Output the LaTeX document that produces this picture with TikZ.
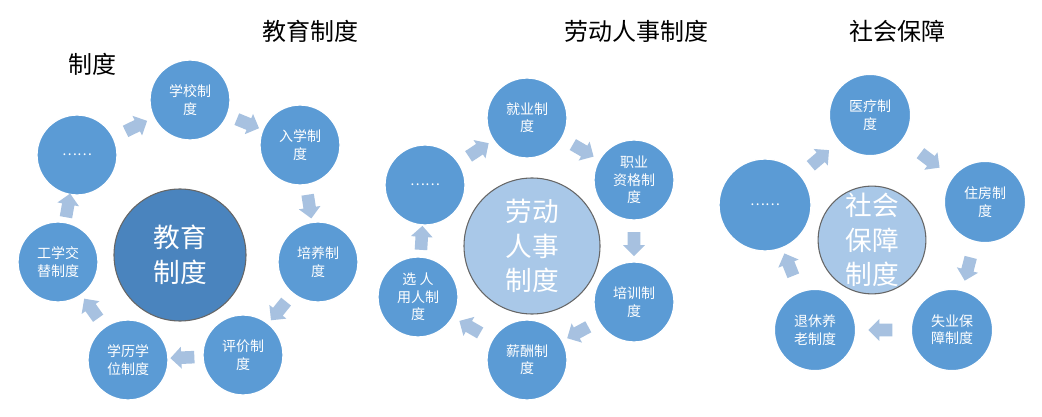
\documentclass[tikz,border=0pt]{standalone}
\usepackage{fontspec}
\newfontfamily\cjk{Noto Sans CJK SC}
\usetikzlibrary{shapes.arrows,calc}
\definecolor{cblue}{HTML}{5B9BD5}
\definecolor{cdark}{HTML}{4A84BE}
\definecolor{clight}{HTML}{A9C8E8}
\definecolor{carrow}{HTML}{A7C1E0}
\begin{document}
\begin{tikzpicture}[x=0.75pt,y=-0.75pt,font=\cjk,
  sm/.style={circle,fill=cblue,draw=white,line width=1pt,text=white,align=center,font=\cjk\fontsize{10.5}{13}\selectfont,inner sep=0pt},
  bigdark/.style={circle,fill=cdark,draw=black!60,line width=0.8pt,text=white,align=center,font=\cjk\fontsize{20}{26}\selectfont,inner sep=0pt},
  biglight/.style={circle,fill=clight,draw=black!60,line width=0.8pt,text=white,align=center,font=\cjk\fontsize{20}{26}\selectfont,inner sep=0pt},
  arr/.style={single arrow,fill=carrow,draw=none,minimum height=18pt,single arrow head extend=3.5pt,single arrow head indent=0pt,inner xsep=2pt,inner ysep=4.5pt},
  ttl/.style={font=\cjk\fontsize{18}{22}\selectfont}]
\newcommand\conn[2]{\path let \p1=($(#2)-(#1)$), \n1={atan2(\y1,\x1)} in node[arr,rotate=\n1] at ($(#1)!0.5!(#2)$) {};}
\useasboundingbox (0,0) rectangle (1042,417);
\fill[white] (0,0) rectangle (1042,417);
% titles
\node[ttl] (t1) at (310,31) {教育制度};
\node[ttl] (t0) at (92,64) {制度};
\node[ttl] (t2) at (636,31) {劳动人事制度};
\node[ttl] (t3) at (897,31) {社会保障};
% group 1
\node[bigdark,minimum size=99pt] (c1) at (180,255) {教育\\制度};
\node[sm,minimum size=60pt] (a1) at (190,100) {学校制\\度};
\node[sm,minimum size=60pt] (a2) at (300,145) {入学制\\度};
\node[sm,minimum size=60pt] (a3) at (318,262) {培养制\\度};
\node[sm,minimum size=60pt] (a4) at (243,355) {评价制\\度};
\node[sm,minimum size=60pt] (a5) at (128,360) {学历学\\位制度};
\node[sm,minimum size=60pt] (a6) at (58,262) {工学交\\替制度};
\node[sm,minimum size=60pt] (a7) at (77,155) {……};
\conn{a1}{a2}\conn{a2}{a3}\conn{a3}{a4}\conn{a4}{a5}\conn{a5}{a6}\conn{a6}{a7}\conn{a7}{a1}
% group 2
\node[biglight,minimum size=102pt] (c2) at (532,246) {劳动\\人事\\制度};
\node[sm,minimum size=60pt] (b1) at (527,118) {就业制\\度};
\node[sm,minimum size=60pt] (b2) at (634,180) {职业\\资格制\\度};
\node[sm,minimum size=60pt] (b3) at (634,302) {培训制\\度};
\node[sm,minimum size=60pt] (b4) at (527,360) {薪酬制\\度};
\node[sm,minimum size=60pt] (b5) at (418,297) {选 人\\用人制\\度};
\node[sm,minimum size=60pt] (b6) at (425,185) {……};
\conn{b1}{b2}\conn{b2}{b3}\conn{b3}{b4}\conn{b4}{b5}\conn{b5}{b6}\conn{b6}{b1}
% group 3
\node[biglight,minimum size=77pt] (c3) at (872,240) {社会\\保障\\制度};
\node[sm,minimum size=61pt] (d1) at (870,115) {医疗制\\度};
\node[sm,minimum size=61pt] (d2) at (985,202) {住房制\\度};
\node[sm,minimum size=61pt] (d3) at (952,330) {失业保\\障制度};
\node[sm,minimum size=61pt] (d4) at (815,330) {退休养\\老制度};
\node[sm,minimum size=69pt] (d5) at (765,205) {……};
\conn{d1}{d2}\conn{d2}{d3}\conn{d3}{d4}\conn{d4}{d5}\conn{d5}{d1}
\end{tikzpicture}
\end{document}
